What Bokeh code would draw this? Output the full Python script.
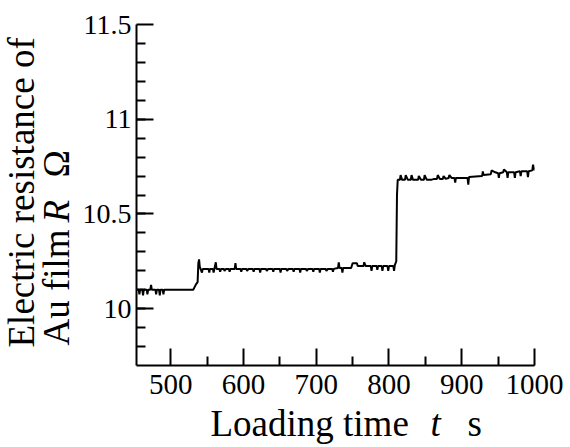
import math
from bokeh.plotting import figure
from bokeh.models import FixedTicker, Range1d, Label
from bokeh.embed import file_html
from bokeh.resources import INLINE

# ---- data ----
load_time = [
    453, 456, 457, 458, 461, 462, 463, 467, 468, 469, 472, 473, 474, 479, 480, 481,
    484, 485, 486, 489, 490, 491, 531, 533, 535, 537, 538, 539, 540,
    541, 543, 544, 552, 553, 554, 558, 559, 560, 562, 563, 567, 568, 569, 573, 574,
    576, 580, 581, 582, 588, 589, 590, 596, 597, 598, 604, 605, 607, 613, 614, 615,
    622, 623, 624, 631, 632, 634, 640, 641, 642, 650, 651, 652, 659, 660, 662, 668,
    669, 670, 677, 678, 679, 686, 687, 689, 695, 696, 697, 704, 705, 706, 713, 714,
    716, 722, 723, 724, 730, 731, 732, 735, 736, 737, 748, 750, 756, 757, 762, 765,
    766, 768, 775, 776, 777, 783, 784, 785, 790, 791, 792, 798, 799, 800, 806, 807,
    808, 810, 811, 812,
    815, 816, 818, 822, 823, 826, 830, 831, 833, 840, 841, 844, 848, 849, 852, 858,
    862, 866, 867, 870, 874, 875, 878, 882, 883, 886, 890, 891, 892, 900, 908, 909,
    910, 928, 929, 930, 940, 941, 946, 950, 951, 952, 957, 958, 962, 963, 964, 972,
    973, 974, 980, 981, 982, 990, 991, 992, 997, 998, 999, 1000,
]
resistance = [
    10.10, 10.10, 10.075, 10.10, 10.10, 10.07, 10.10, 10.10, 10.075, 10.10, 10.10, 10.125, 10.10, 10.10, 10.075, 10.10,
    10.10, 10.07, 10.10, 10.10, 10.075, 10.10, 10.10, 10.115, 10.13, 10.14, 10.24, 10.26, 10.22,
    10.21, 10.19, 10.21, 10.21, 10.19, 10.21, 10.21, 10.19, 10.21, 10.245, 10.21, 10.21, 10.195, 10.21, 10.21, 10.20,
    10.21, 10.21, 10.195, 10.21, 10.21, 10.24, 10.21, 10.21, 10.195, 10.21, 10.21, 10.20, 10.21, 10.21, 10.195, 10.21,
    10.21, 10.19, 10.21, 10.21, 10.20, 10.21, 10.21, 10.195, 10.21, 10.21, 10.19, 10.21, 10.21, 10.20, 10.21, 10.21,
    10.195, 10.21, 10.21, 10.19, 10.21, 10.21, 10.20, 10.21, 10.21, 10.195, 10.21, 10.21, 10.19, 10.21, 10.21, 10.20,
    10.21, 10.21, 10.195, 10.21, 10.215, 10.245, 10.215, 10.215, 10.19, 10.215, 10.215, 10.24, 10.24, 10.225, 10.225, 10.225,
    10.245, 10.225, 10.225, 10.20, 10.225, 10.225, 10.205, 10.225, 10.225, 10.20, 10.225, 10.225, 10.20, 10.225, 10.225, 10.20,
    10.23, 10.25, 10.60, 10.68,
    10.68, 10.705, 10.68, 10.68, 10.705, 10.68, 10.68, 10.705, 10.68, 10.68, 10.70, 10.68, 10.68, 10.705, 10.68, 10.68,
    10.685, 10.685, 10.705, 10.685, 10.685, 10.70, 10.685, 10.69, 10.705, 10.69, 10.69, 10.665, 10.69, 10.69, 10.69, 10.655,
    10.695, 10.70, 10.725, 10.705, 10.71, 10.73, 10.72, 10.715, 10.69, 10.715, 10.72, 10.735, 10.72, 10.69, 10.72, 10.72,
    10.69, 10.72, 10.725, 10.70, 10.725, 10.725, 10.695, 10.725, 10.73, 10.76, 10.735, 10.735,
]

x_ticks = [500, 600, 700, 800, 900, 1000]
x_minor = [550, 650, 750, 850, 950]
y_ticks = [10, 10.5, 11, 11.5]
y_tick_labels = ["10", "10.5", "11", "11.5"]
y_minor = [round(9.8 + 0.1 * i, 1) for i in range(17)]
x_lo, x_hi = 453, 1000
y_lo, y_hi = 9.7, 11.5

FONT = "Liberation Serif"

# Canvas geometry (pixels): the drawn axes box inside the whole canvas
W, H = 570, 447
BOX_L, BOX_R, BOX_T, BOX_B = 136, 534, 24, 365
sx = (BOX_R - BOX_L) / (x_hi - x_lo)
sy = (BOX_B - BOX_T) / (y_hi - y_lo)

p = figure(
    width=W, height=H, min_border=0,
    x_range=Range1d(x_lo - BOX_L / sx, x_hi + (W - BOX_R) / sx),
    y_range=Range1d(y_lo - (H - BOX_B) / sy, y_hi + BOX_T / sy),
    output_backend="svg", toolbar_location=None,
)
p.outline_line_color = None
p.xgrid.visible = False
p.ygrid.visible = False

p.line(load_time, resistance, line_color="black", line_width=2)

for ax in (p.xaxis[0], p.yaxis[0]):
    ax.axis_line_width = 2
    ax.axis_line_color = "black"
    ax.major_tick_line_width = 2
    ax.minor_tick_line_width = 2
    ax.major_tick_line_color = "black"
    ax.minor_tick_line_color = "black"
    ax.major_tick_out = 0
    ax.minor_tick_out = 0
    ax.major_tick_in = 17
    ax.minor_tick_in = 9
    ax.major_label_text_font = FONT
    ax.major_label_text_color = "black"

p.xaxis.fixed_location = y_lo
p.xaxis.bounds = (x_lo, x_hi)
p.yaxis.fixed_location = x_lo
p.yaxis.bounds = (y_lo, y_hi)

p.xaxis.ticker = FixedTicker(ticks=x_ticks, minor_ticks=x_minor)
p.yaxis.ticker = FixedTicker(ticks=y_ticks, minor_ticks=y_minor)
p.yaxis.major_label_overrides = {v: s for v, s in zip(y_ticks, y_tick_labels)}
p.xaxis.major_label_text_font_size = "29px"
p.yaxis.major_label_text_font_size = "28px"
p.xaxis.major_label_standoff = 9
p.yaxis.major_label_standoff = 5

def lab(text, x, y_top, italic=False, angle=0.0):
    # x, y_top: pixel position from the canvas's top-left corner
    p.add_layout(Label(
        x=x, y=H - y_top, x_units="screen", y_units="screen", text=text,
        text_font=FONT, text_font_size="37px", text_color="black",
        text_font_style="italic" if italic else "normal",
        text_align="left", text_baseline="alphabetic", angle=angle,
    ))

# x axis title
lab("Loading time", 210, 423)
lab("t", 430, 423, italic=True)
lab("s", 467, 423)

# y axis title (two lines, rotated)
r = math.pi / 2
lab("Electric resistance of", 21, 347, angle=r)
lab("Au film", 56, 345, angle=r)
lab("R", 56, 222, italic=True, angle=r)
lab("Ω", 56, 177, angle=r)

open("out.html", "w").write(file_html(p, INLINE))
